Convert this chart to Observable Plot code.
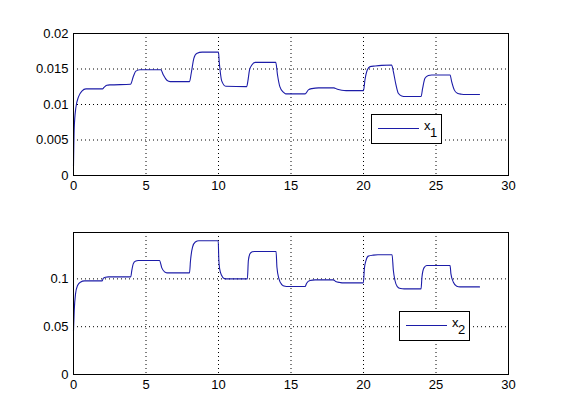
<!DOCTYPE html>
<html>
<head>
<meta charset="utf-8">
<script src="https://cdn.jsdelivr.net/npm/d3@7"></script>
<script src="https://cdn.jsdelivr.net/npm/@observablehq/plot@0.6"></script>
<style>
  html, body { margin: 0; padding: 0; background: #fff; }
  #fig { position: relative; width: 561px; height: 420px; background: #fff; overflow: hidden;
         font-family: "Liberation Sans", Arial, sans-serif; }
  #fig svg { position: absolute; left: 0; background: transparent; }
  .legend { position: absolute; width: 71px; height: 30px; box-sizing: border-box;
            border: 1px solid #000; background: #fff; font-size: 13px; line-height: 13px; color: #000; }
  .legend .ln { position: absolute; left: 6px; top: 13px; width: 41px; height: 0; border-top: 1px solid #1c1ca8; }
  .legend .x { position: absolute; left: 52px; top: 4px; }
  .legend .s { position: absolute; left: 58px; top: 11px; }
</style>
</head>
<body>
<div id="fig"></div>
<script>
// ---- data ----
const xTicks = [0, 5, 10, 15, 20, 25, 30];
const y1Ticks = [0, 0.005, 0.01, 0.015, 0.02];
const y2Ticks = [0, 0.05, 0.1];

const t1 = [0, 0.05, 0.16, 0.35, 0.58, 0.86, 2.0, 2.1, 2.3, 2.5, 3.93, 4.12, 4.3, 4.58, 6.02, 6.2, 6.44, 6.67, 8.0,
  8.12, 8.3, 8.49, 8.88, 10.0, 10.05, 10.12, 10.22, 10.5, 11.95, 12.02, 12.14, 12.3, 12.53, 13.95, 14.07, 14.23,
  14.47, 14.63, 15.98, 16.2, 16.44, 16.9, 17.95, 18.2, 18.5, 18.8, 20.0, 20.1, 20.26, 20.45, 20.8, 21.25, 21.94,
  22.06, 22.24, 22.4, 22.63, 22.9, 23.97, 24.08, 24.24, 24.47, 24.7, 25.97, 26.08, 26.26, 26.47, 26.77, 27.0, 28.0];
const x1 = [0.0013, 0.0067, 0.0095, 0.0111, 0.0119, 0.0122, 0.0122, 0.0124, 0.0127, 0.01276, 0.01285, 0.0139, 0.0147,
  0.0149, 0.0149, 0.01416, 0.01341, 0.01322, 0.01322, 0.0144, 0.0165, 0.0172, 0.01738, 0.01738, 0.0160, 0.01463,
  0.01332, 0.01257, 0.01252, 0.01322, 0.01486, 0.01556, 0.01593, 0.01593, 0.01416, 0.01252, 0.01173, 0.0115, 0.0115,
  0.01206, 0.01224, 0.01234, 0.01234, 0.01215, 0.01201, 0.01196, 0.01196, 0.01346, 0.01486, 0.01533, 0.01542,
  0.01551, 0.01556, 0.01463, 0.01276, 0.01159, 0.01121, 0.01112, 0.01112, 0.0123, 0.01369, 0.01407, 0.01416,
  0.01416, 0.01322, 0.01206, 0.01159, 0.01145, 0.0114, 0.0114];

const t2 = [0, 0.05, 0.14, 0.28, 0.47, 0.77, 1.98, 2.05, 2.2, 2.4, 3.95, 4.02, 4.12, 4.26, 4.47, 5.93, 6.09, 6.28,
  6.44, 8.0, 8.07, 8.21, 8.4, 8.65, 9.98, 10.02, 10.08, 10.22, 10.4, 10.6, 11.99, 12.06, 12.17, 12.33, 12.5, 13.97,
  14.03, 14.17, 14.36, 14.59, 14.8, 15.97, 16.08, 16.31, 16.66, 17.92, 18.08, 18.38, 18.6, 19.99, 20.06, 20.17,
  20.33, 20.68, 21.0, 21.97, 22.06, 22.17, 22.33, 22.56, 22.8, 23.97, 24.03, 24.17, 24.36, 25.97, 26.03, 26.2,
  26.43, 26.66, 28.0];
const x2 = [0.0458, 0.0668, 0.0843, 0.093, 0.0965, 0.0979, 0.0979, 0.1005, 0.1017, 0.1021, 0.1021, 0.1087, 0.1157,
  0.1185, 0.1192, 0.1192, 0.1115, 0.1073, 0.1063, 0.1063, 0.1192, 0.1332, 0.1385, 0.1399, 0.1399, 0.121, 0.1105,
  0.1035, 0.1003, 0.1, 0.1, 0.1192, 0.1262, 0.1283, 0.1287, 0.1287, 0.1122, 0.1, 0.0941, 0.0923, 0.092, 0.092,
  0.0955, 0.0983, 0.099, 0.099, 0.0972, 0.0962, 0.0958, 0.0958, 0.1105, 0.1192, 0.1238, 0.1248, 0.1252, 0.1252,
  0.1087, 0.0983, 0.092, 0.0899, 0.0895, 0.0895, 0.1017, 0.1115, 0.114, 0.114, 0.1052, 0.0965, 0.0923, 0.0916,
  0.0916];

const seriesNames = ["1", "2"];
const lineColor = "#1c1ca8";

const data1 = t1.map((t, i) => ({t, v: x1[i]}));
const data2 = t2.map((t, i) => ({t, v: x2[i]}));

function panel(data, yDomain, yTicks, opts) {
  return Plot.plot({
    width: 561,
    height: opts.height,
    marginLeft: 73,
    marginRight: 53,
    marginTop: opts.marginTop,
    marginBottom: opts.marginBottom,
    style: {fontFamily: '"Liberation Sans", Arial, sans-serif', fontSize: "13px", color: "#000", background: "transparent"},
    x: {domain: [0, 30]},
    y: {domain: yDomain},
    marks: [
      Plot.gridX(xTicks, {stroke: "#000", strokeOpacity: 1, strokeWidth: 1, strokeDasharray: "1,3"}),
      Plot.gridY(yTicks, {stroke: "#000", strokeOpacity: 1, strokeWidth: 1, strokeDasharray: "1,3"}),
      Plot.line(data, {x: "t", y: "v", stroke: lineColor, strokeWidth: 1.1, curve: "monotone-x"}),
      Plot.frame({stroke: "#000", strokeWidth: 1}),
      Plot.axisX(xTicks, {tickSize: 0, tickPadding: 5, tickFormat: d => String(d), label: null}),
      Plot.axisY(yTicks, {tickSize: 0, tickPadding: 5, tickFormat: d => String(d), label: null})
    ]
  });
}

const fig = document.getElementById("fig");
const p1 = panel(data1, [0, 0.02], y1Ticks, {height: 200, marginTop: 33, marginBottom: 25});
p1.style.top = "0px";
fig.appendChild(p1);
const p2 = panel(data2, [0, 0.1485], y2Ticks, {height: 220, marginTop: 32, marginBottom: 46});
p2.style.top = "200px";
fig.appendChild(p2);

function legend(name, left, top) {
  const d = document.createElement("div");
  d.className = "legend";
  d.style.left = left + "px";
  d.style.top = top + "px";
  d.innerHTML = `<span class="ln"></span><span class="x">x</span><span class="s">${name}</span>`;
  fig.appendChild(d);
}
legend(seriesNames[0], 371, 114);
legend(seriesNames[1], 399, 311);
</script>
</body>
</html>
